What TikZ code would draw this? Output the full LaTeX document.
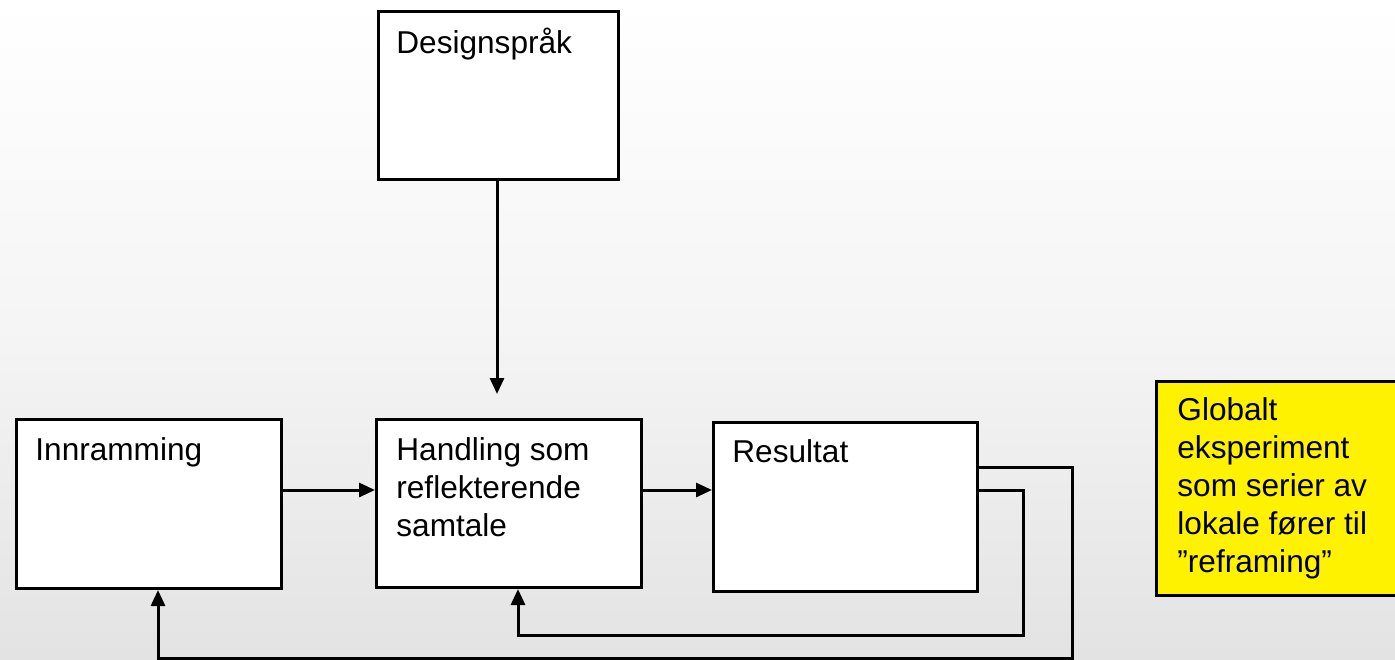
\documentclass[tikz,border=0pt]{standalone}
\usepackage{fontspec}
\setmainfont{Liberation Sans}
\usetikzlibrary{arrows.meta,calc}
\begin{document}
\begin{tikzpicture}[x=0.5pt,y=-0.5pt,
  boxst/.style={draw=black,line width=1.5pt,fill=white,inner sep=0pt,anchor=north west},
  txt/.style={anchor=north west,inner sep=0pt,align=left,font=\fontsize{15.8}{19}\selectfont},
  arr/.style={line width=1.5pt,-{Triangle[length=8pt,width=7pt]}},
  ln/.style={line width=1.5pt}]
\useasboundingbox (0,0) rectangle (1395,659);
\shade[top color=white,bottom color=black!11,middle color=black!4] (0,0) rectangle (1395,659);
\begin{scope}
\clip (0,0) rectangle (1395,659);
% boxes
\node[boxst,minimum width=120pt,minimum height=84pt] (des) at (377,10) {};
\node[boxst,minimum width=132.5pt,minimum height=84.5pt] (inn) at (15,418) {};
\node[boxst,minimum width=132.5pt,minimum height=84pt] (han) at (375,418) {};
\node[boxst,minimum width=132pt,minimum height=84.5pt] (res) at (712,421) {};
\node[boxst,fill=yellow,minimum width=130pt,minimum height=107pt] (glo) at (1155,380) {};
\end{scope}
% texts
\node[txt] (tdes) at ($(des.north west)+(19,17.5)$) {Designspråk};
\node[txt] (tinn) at ($(inn.north west)+(20,19.5)$) {Innramming};
\node[txt] (than) at ($(han.north west)+(21,19.5)$) {Handling som\\reflekterende\\samtale};
\node[txt] (tres) at ($(res.north west)+(20,18.5)$) {Resultat};
\node[txt] (tglo) at ($(glo.north west)+(22,17.5)$) {Globalt\\eksperiment\\som serier av\\lokale fører til\\”reframing”};
% connectors
\coordinate (dtip) at (497,394);
\draw[arr] (des.south -| dtip) -- (dtip);
\coordinate (ya) at (0,490);
\coordinate (yb) at (0,467);
\draw[arr] (inn.east |- ya) -- (han.west |- ya);
\draw[arr] (han.east |- ya) -- (res.west |- ya);
\coordinate (o1) at (1072,658);
\coordinate (o2) at (158,658);
\draw[arr] (res.east |- yb) -- (o1 |- yb) -- (o1) -- (o2) -- (inn.south -| o2);
\coordinate (i1) at (1023,635);
\coordinate (i2) at (518,635);
\draw[arr] (res.east |- ya) -- (i1 |- ya) -- (i1) -- (i2) -- (han.south -| i2);
\end{tikzpicture}
\end{document}
